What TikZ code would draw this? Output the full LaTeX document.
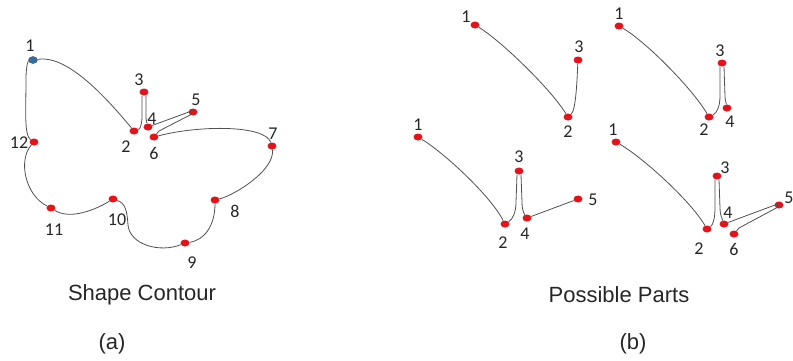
\documentclass[tikz,border=0pt]{standalone}
\usepackage{fontspec}
\setmainfont{Liberation Sans}
\newfontfamily\numfont{Carlito}
\usetikzlibrary{shapes.geometric}
\definecolor{dotred}{HTML}{E5121A}
\definecolor{dotblue}{HTML}{2F6EA6}
\definecolor{linegray}{HTML}{505050}
\begin{document}
\begin{tikzpicture}[x=1pt,y=-1pt,
  dot/.style={ellipse,fill=dotred,draw=none,minimum width=9pt,minimum height=7pt,inner sep=0pt},
  bdot/.style={ellipse,fill=dotblue,draw=black!70,line width=0.4pt,minimum width=9pt,minimum height=7pt,inner sep=0pt},
  num/.style={font=\numfont\fontsize{18}{18}\selectfont,inner sep=0pt,text=black!85},
  captext/.style={font=\fontsize{22}{24}\selectfont,inner sep=0pt,text=black!85},
  curve/.style={draw=linegray,line width=0.8pt}]
\useasboundingbox (0,0) rectangle (793,360);

% ---------- (a) shape contour ----------
\node[bdot] (a1) at (33,60) {};
\node[dot] (a2) at (134,131) {};
\node[dot] (a3) at (144,92) {};
\node[dot] (a4) at (148,127) {};
\node[dot] (a5) at (193,112) {};
\node[dot] (a6) at (154,137) {};
\node[dot] (a7) at (272,146) {};
\node[dot] (a8) at (215,200) {};
\node[dot] (a9) at (185,243) {};
\node[dot] (a10) at (113,199) {};
\node[dot] (a11) at (51,208) {};
\node[dot] (a12) at (34,142) {};

\draw[curve] (a1) .. controls (65,55) and (100,90) .. (a2);
\draw[curve] (a2) .. controls (140,129) and (142,125) .. (142,116) -- ([xshift=-2pt]a3.south);
\draw[curve] ([xshift=2pt]a3.south) -- (146,116) .. controls (146,121) and (147,123) .. (a4);
\draw[curve] (a4) -- ([yshift=1.5pt]a5.center);
\draw[curve] ([yshift=-1.5pt]a5.center) -- (159,131) -- (a6);
\draw[curve] (a6) .. controls (200,125) and (265,125) .. (a7);
\draw[curve] (a7) .. controls (275,170) and (235,195) .. (a8);
\draw[curve] (a8) .. controls (215,225) and (205,240) .. (a9);
\draw[curve] (a10) .. controls (125,203) and (127,210) .. (128,225)
  .. controls (130,245) and (160,253) .. (a9);
\draw[curve] (a10) .. controls (95,210) and (70,220) .. (a11);
\draw[curve] (a11) .. controls (25,195) and (18,160) .. (a12);
\draw[curve] (a12) .. controls (24,135) and (26,110) .. (26,80)
  .. controls (26,66) and (28,61) .. (a1);

\node[num] (la1) at (30,46) {1};
\node[num] (la2) at (126,147) {2};
\node[num] (la3) at (139,80) {3};
\node[num] (la4) at (152,119) {4};
\node[num] (la5) at (196,100) {5};
\node[num] (la6) at (154,153) {6};
\node[num] (la7) at (273,134) {7};
\node[num] (la8) at (235,211) {8};
\node[num] (la9) at (192,263) {9};
\node[num] (la10) at (117,220) {10};
\node[num] (la11) at (54,230) {11};
\node[num] (la12) at (19,143) {12};

% ---------- (b) part 1 ----------
\node[dot] (p1) at (475,25) {};
\node[dot] (p2) at (568,117) {};
\node[dot] (p3) at (578,60) {};
\draw[curve] (p1) .. controls (500,40) and (550,88) .. (p2);
\draw[curve] (p2) .. controls (576,110) and (577,80) .. (p3);
\node[num] (lp1) at (466,17) {1};
\node[num] (lp2) at (568,132) {2};
\node[num] (lp3) at (579,47) {3};

% ---------- (b) part 2 ----------
\node[dot] (q1) at (619,26) {};
\node[dot] (q2) at (709,117) {};
\node[dot] (q3) at (722,63) {};
\node[dot] (q4) at (727,108) {};
\draw[curve] (q1) .. controls (645,41) and (692,88) .. (q2);
\draw[curve] (q2) .. controls (717,113) and (720,106) .. (720,96) -- ([xshift=-2pt]q3.south);
\draw[curve] ([xshift=2pt]q3.south) -- (725,96) .. controls (725,100) and (726,102) .. (q4);
\node[num] (lq1) at (619,14) {1};
\node[num] (lq2) at (704,130) {2};
\node[num] (lq3) at (720,51) {3};
\node[num] (lq4) at (730,122) {4};

% ---------- (b) part 3 ----------
\node[dot] (r1) at (418,137) {};
\node[dot] (r2) at (505,224) {};
\node[dot] (r3) at (519,171) {};
\node[dot] (r4) at (527,218) {};
\node[dot] (r5) at (578,199) {};
\draw[curve] (r1) .. controls (443,152) and (490,195) .. (r2);
\draw[curve] (r2) .. controls (513,219) and (516,212) .. (516,202) -- ([xshift=-2pt]r3.south);
\draw[curve] ([xshift=2pt]r3.south) -- (522,202) .. controls (522,208) and (523,212) .. (r4);
\draw[curve] (r4) -- (r5);
\node[num] (lr1) at (418,125) {1};
\node[num] (lr2) at (503,243) {2};
\node[num] (lr3) at (519,157) {3};
\node[num] (lr4) at (525,234) {4};
\node[num] (lr5) at (593,200) {5};

% ---------- (b) part 4 ----------
\node[dot] (s1) at (616,142) {};
\node[dot] (s2) at (707,229) {};
\node[dot] (s3) at (717,176) {};
\node[dot] (s4) at (724,224) {};
\node[dot] (s5) at (779,205) {};
\node[dot] (s6) at (734,234) {};
\draw[curve] (s1) .. controls (642,157) and (690,200) .. (s2);
\draw[curve] (s2) .. controls (713,225) and (715,218) .. (715,208) -- ([xshift=-2pt]s3.south);
\draw[curve] ([xshift=2pt]s3.south) -- (720,208) .. controls (720,213) and (721,216) .. (s4);
\draw[curve] (s4) -- ([yshift=1.5pt]s5.center);
\draw[curve] ([yshift=-1.5pt]s5.center) -- (739,228) -- (s6);
\node[num] (ls1) at (613,130) {1};
\node[num] (ls2) at (699,249) {2};
\node[num] (ls3) at (725,168) {3};
\node[num] (ls4) at (728,213) {4};
\node[num] (ls5) at (789,198) {5};
\node[num] (ls6) at (734,249) {6};

% ---------- captions ----------
\node[captext] (capa) at (142,295) {Shape Contour};
\node[captext] (suba) at (112,344) {(a)};
\node[captext] (capb) at (619,295) {Possible Parts};
\node[captext] (subb) at (633,344) {(b)};
\end{tikzpicture}
\end{document}
